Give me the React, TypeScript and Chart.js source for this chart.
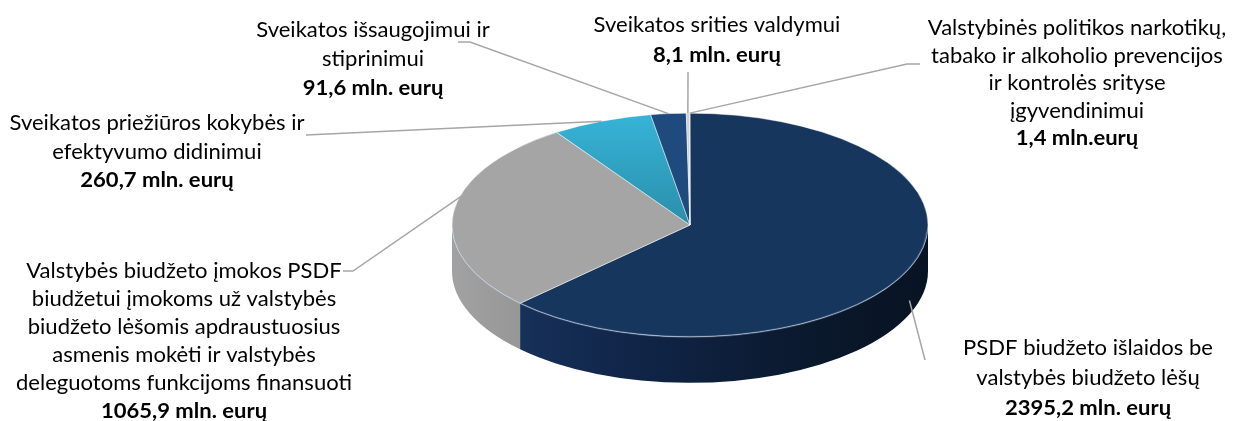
import React, { useEffect, useRef } from 'react';
import { Chart, registerables } from 'chart.js';

Chart.register(...registerables);

// ---- data ----
const categoryLines: string[][] = [
  ['PSDF biudžeto išlaidos be', 'valstybės biudžeto lėšų'],
  [
    'Valstybės biudžeto įmokos PSDF',
    'biudžetui įmokoms už valstybės',
    'biudžeto lėšomis apdraustuosius',
    'asmenis mokėti ir valstybės',
    'deleguotoms funkcijoms finansuoti',
  ],
  ['Sveikatos priežiūros kokybės ir', 'efektyvumo didinimui'],
  ['Sveikatos išsaugojimui ir', 'stiprinimui'],
  ['Sveikatos srities valdymui'],
  ['Valstybinės politikos narkotikų,', 'tabako ir alkoholio prevencijos', 'ir kontrolės srityse', 'įgyvendinimui'],
];
const categories = categoryLines.map((l) => l.join(' '));
const values = [2395.2, 1065.9, 260.7, 91.6, 8.1, 1.4];
const valueLabels = [
  '2395,2 mln. eurų',
  '1065,9 mln. eurų',
  '260,7 mln. eurų',
  '91,6 mln. eurų',
  '8,1 mln. eurų',
  '1,4 mln.eurų',
];

// ---- styles / layout ----
const topColors = ['#17365d', '#a5a5a5', '#33afd3', '#1f4a7e', '#d0d0d0', '#8faadc'];
const sideStops: [number, string][][] = [
  [[0, '#1b3863'], [0.35, '#11264a'], [0.7, '#0b1a30'], [1, '#081322']],
  [[0, '#a2a2a2'], [0.2, '#929292'], [1, '#858585']],
  [[0, '#2a93b0'], [1, '#2a93b0']],
  [[0, '#1a3f6b'], [1, '#1a3f6b']],
  [[0, '#b0b0b0'], [1, '#b0b0b0']],
  [[0, '#7a95c5'], [1, '#7a95c5']],
];
const PIE_RADIUS = 238;
const SQUASH = 0.47;
const DEPTH = 46;
const FONT_SIZE = 21;
const FONT_FAMILY = 'Lato, "Open Sans", sans-serif';
const REF_TEXT = 'Sveikatos priežiūros kokybės ir';
const REF_WIDTH = 295;
const labelCenters = [1088, 184, 157, 373, 717, 1077];
const labelFirstBaselines = [355, 278, 130, 37, 32, 35];
const labelLineHeights = [30, 28, 28.5, 29, 30, 27.5];
const leaderPaths: number[][][] = [
  [[925, 360]],
  [[343, 271], [353, 271]],
  [[306, 135]],
  [[458, 42], [470, 42]],
  [[688, 72]],
  [[920, 64], [907, 64]],
];
const anchorRadius = [1, 0.95, 1, 1, 1, 1];
const anchorDrop = [0.7, -0.45, 0, 0, 0, 0];

const pie3d = {
  id: 'pie3d',
  beforeDatasetsDraw(chart: any) {
    const meta = chart.getDatasetMeta(0);
    const arcs = meta.data;
    const ctx = chart.ctx as CanvasRenderingContext2D;
    (chart as any).$pie3dSaved = false;
    if (!arcs.length) return;
    const p0 = arcs[0].getProps(['x', 'y', 'outerRadius'], true);
    const cx = p0.x, cy = p0.y, R = p0.outerRadius;
    ctx.save();
    arcs.forEach((arc: any, i: number) => {
      const { startAngle, endAngle } = arc.getProps(['startAngle', 'endAngle'], true);
      const a0 = Math.max(startAngle, 0);
      const a1 = Math.min(endAngle, Math.PI);
      if (a1 <= a0) return;
      const g = ctx.createLinearGradient(cx - R, 0, cx + R, 0);
      sideStops[i].forEach(([o, c]) => g.addColorStop(o, c));
      ctx.beginPath();
      ctx.ellipse(cx, cy, R, R * SQUASH, 0, a0, a1, false);
      ctx.ellipse(cx, cy + DEPTH, R, R * SQUASH, 0, a1, a0, true);
      ctx.closePath();
      ctx.fillStyle = g;
      ctx.fill();
    });
    ctx.restore();
    ctx.save();
    ctx.translate(cx, cy);
    ctx.scale(1, SQUASH);
    ctx.translate(-cx, -cy);
    (chart as any).$pie3dSaved = true;
  },
  afterDatasetsDraw(chart: any) {
    const ctx = chart.ctx as CanvasRenderingContext2D;
    if ((chart as any).$pie3dSaved) ctx.restore();
    const arcs = chart.getDatasetMeta(0).data;
    if (!arcs.length) return;
    const p0 = arcs[0].getProps(['x', 'y', 'outerRadius'], true);
    // subtle bevel highlight along the front rim
    ctx.save();
    ctx.beginPath();
    ctx.ellipse(p0.x, p0.y + 1, p0.outerRadius - 1, p0.outerRadius * SQUASH - 1, 0, 0.05, Math.PI - 0.05);
    ctx.strokeStyle = 'rgba(150,175,210,0.25)';
    ctx.lineWidth = 2;
    ctx.stroke();
    ctx.restore();
  },
  afterDraw(chart: any) {
    const ctx = chart.ctx as CanvasRenderingContext2D;
    const arcs = chart.getDatasetMeta(0).data;
    ctx.save();
    ctx.font = `${FONT_SIZE}px ${FONT_FAMILY}`;
    const sx = REF_WIDTH / ctx.measureText(REF_TEXT).width;
    // leader lines
    ctx.strokeStyle = '#a6a6a6';
    ctx.lineWidth = 1.5;
    arcs.forEach((arc: any, i: number) => {
      const p = arc.getProps(['x', 'y', 'startAngle', 'endAngle', 'outerRadius'], true);
      const mid = (p.startAngle + p.endAngle) / 2;
      const r = p.outerRadius * anchorRadius[i];
      const ax = p.x + r * Math.cos(mid);
      const ay = p.y + r * SQUASH * Math.sin(mid) + DEPTH * anchorDrop[i];
      ctx.beginPath();
      leaderPaths[i].forEach(([x, y], j) => (j ? ctx.lineTo(x, y) : ctx.moveTo(x, y)));
      ctx.lineTo(ax, ay);
      ctx.stroke();
    });
    // labels
    ctx.fillStyle = '#000000';
    ctx.textAlign = 'center';
    ctx.textBaseline = 'alphabetic';
    categoryLines.forEach((lines, i) => {
      const all = [...lines, valueLabels[i]];
      all.forEach((t, j) => {
        const bold = j === all.length - 1;
        ctx.font = `${bold ? 'bold ' : ''}${FONT_SIZE}px ${FONT_FAMILY}`;
        ctx.save();
        ctx.translate(labelCenters[i], labelFirstBaselines[i] + j * labelLineHeights[i]);
        ctx.scale(sx, 1);
        ctx.fillText(t, 0, 0);
        ctx.restore();
      });
    });
    ctx.restore();
  },
};

export default function App() {
  const ref = useRef<HTMLCanvasElement | null>(null);
  useEffect(() => {
    if (!ref.current) return;
    const chart = new Chart(ref.current, {
      type: 'pie',
      data: {
        labels: categories,
        datasets: [
          {
            data: values,
            backgroundColor: (c: any) => {
              const i = c.dataIndex;
              const area = c.chart.chartArea;
              if (i !== 2 || !area) return topColors[i];
              const cy = (area.top + area.bottom) / 2;
              const g = c.chart.ctx.createLinearGradient(0, cy - PIE_RADIUS, 0, cy);
              g.addColorStop(0, '#36b4d8');
              g.addColorStop(1, '#2b8eaa');
              return g;
            },
            borderColor: 'rgba(255,255,255,0.65)',
            borderWidth: 1,
            radius: PIE_RADIUS,
            clip: false,
          } as any,
        ],
      },
      options: {
        responsive: true,
        maintainAspectRatio: false,
        animation: false,
        events: [],
        layout: { padding: { left: 143, right: 0, top: 29, bottom: 0 } },
        plugins: {
          legend: { display: false },
          tooltip: { enabled: false },
        },
      },
      plugins: [pie3d as any],
    });
    return () => chart.destroy();
  }, []);
  return (
    <div style={{ position: 'absolute', left: 0, top: 0, width: 1237, height: 421, background: '#ffffff' }}>
      <canvas ref={ref} />
    </div>
  );
}
